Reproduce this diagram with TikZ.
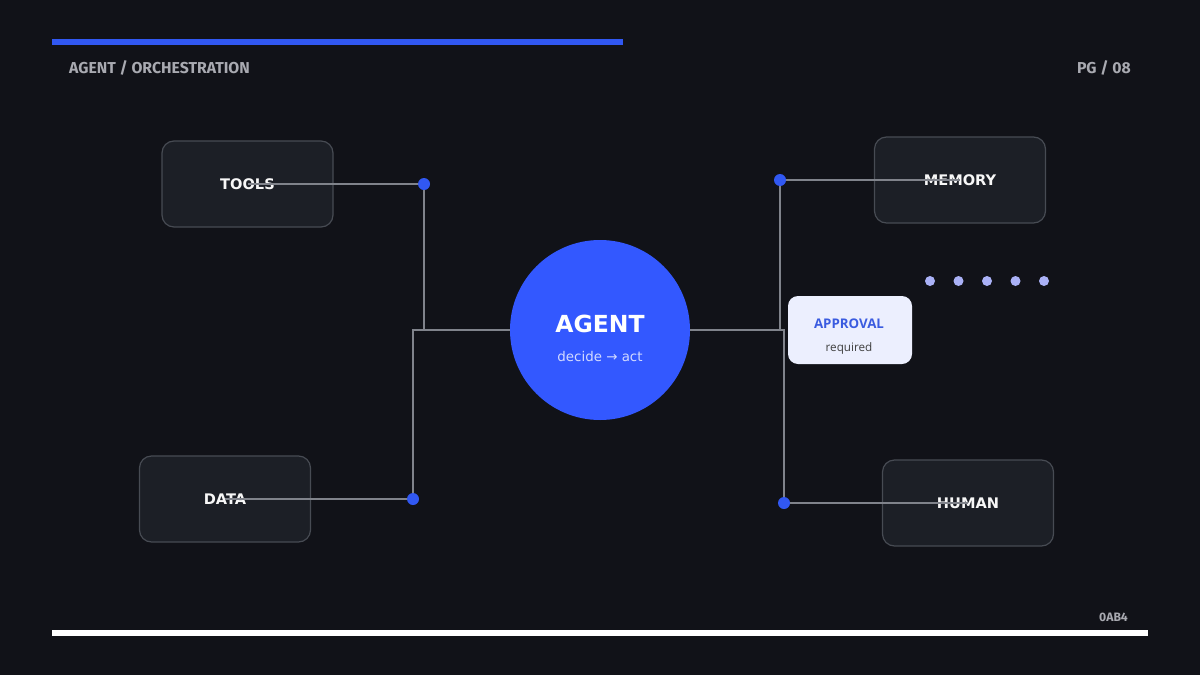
\documentclass[tikz,border=0pt]{standalone}
\usepackage{fontspec}
\setmainfont{DejaVu Sans}
\newfontfamily\headfont{Fira Sans}
\newfontfamily\notefont{Open Sans}
\usetikzlibrary{positioning}

\definecolor{bgdark}{HTML}{111218}
\definecolor{accent}{HTML}{3158F2}
\definecolor{boxfill}{HTML}{1C1F26}
\definecolor{boxline}{HTML}{474B53}
\definecolor{wiregray}{HTML}{80838B}
\definecolor{headgray}{HTML}{A9AAB1}
\definecolor{agentblue}{HTML}{3358FF}
\definecolor{softblue}{HTML}{D3DAFF}
\definecolor{notefill}{HTML}{ECEFFE}
\definecolor{notetext}{HTML}{3A5BE0}
\definecolor{lavender}{HTML}{AAB1F6}

\begin{document}
\begin{tikzpicture}[
    x=1pt, y=-1pt,
    box/.style={draw=boxline, line width=1.2pt, fill=boxfill, rounded corners=12pt, minimum width=171pt, minimum height=86pt, text=white!94!gray, font=\fontsize{14.6}{16}\selectfont\bfseries},
    wire/.style={draw=wiregray, line width=2pt},
    hub/.style={circle, fill=accent, inner sep=0pt, minimum size=12pt},
    pip/.style={circle, fill=lavender, inner sep=0pt, minimum size=10pt},
    head/.style={text=headgray, font=\headfont\fontsize{15.8}{18}\selectfont\bfseries, inner sep=0pt}
]
\fill[bgdark] (0,0) rectangle (1200,675);
\useasboundingbox (0,0) rectangle (1200,675);

% frame bars and captions
\fill[accent] (52,39) rectangle (623,45);
\fill[white] (52,630) rectangle (1148,636);
\node[head, anchor=west] (section) at (69,68) {AGENT / ORCHESTRATION};
\node[head, anchor=east] (page) at (1131,68) {PG / 08};
\node[head, anchor=east, font=\headfont\fontsize{12.2}{14}\selectfont\bfseries] (code) at (1128,617) {0AB4};

% boxes
\node[box] (tools) at (247.5,184) {TOOLS};
\node[box] (data) at (225,499) {DATA};
\node[box] (memory) at (960,180) {MEMORY};
\node[box] (human) at (968,503) {HUMAN};

% agent
\node[circle, fill=agentblue, minimum size=180pt, inner sep=0pt] (agent) at (600,330) {};
\node[text=white, font=\fontsize{23.5}{26}\selectfont\bfseries] (agentname) at (600,324) {AGENT};
\node[text=softblue, font=\fontsize{13.4}{15}\selectfont] (agentnote) at (600,356) {decide → act};

% hubs
\coordinate (toolshub) at (424,184);
\coordinate (datahub) at (413,499);
\coordinate (memoryhub) at (780,180);
\coordinate (humanhub) at (784,503);

\draw[wire] (agent.west) -| (toolshub) -- (tools.center);
\draw[wire] (agent.west) -| (datahub) -- (data.center);
\draw[wire] (agent.east) -| (memoryhub) -- (memory.center);
\draw[wire] (agent.east) -| (humanhub) -- (human.center);

\foreach \h in {toolshub, datahub, memoryhub, humanhub}
    \node[hub] at (\h) {};

% approval
\node[fill=notefill, rounded corners=10pt, minimum width=124pt, minimum height=68pt] (approval) at (850,330) {};
\node[text=notetext, font=\notefont\fontsize{13.3}{15}\selectfont\bfseries] (approvaltitle) at (849,324) {APPROVAL};
\node[text=black!75, font=\notefont\fontsize{11.7}{13}\selectfont] (approvalnote) at (849,348) {required};

% queue dots
\foreach \x in {930,958.5,987,1015.5,1044}
    \node[pip] at (\x,281) {};
\end{tikzpicture}
\end{document}
